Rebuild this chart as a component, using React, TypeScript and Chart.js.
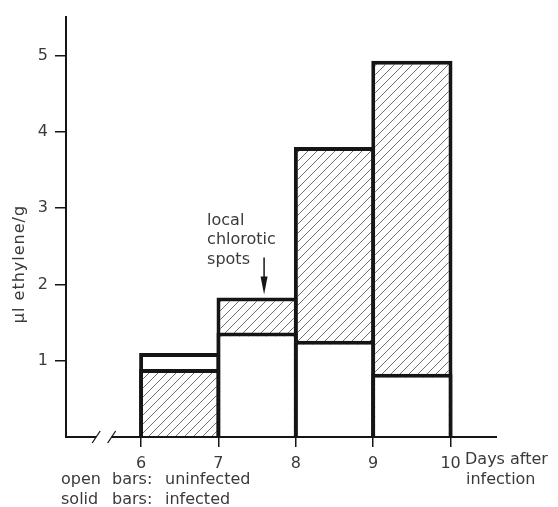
import React, { useEffect, useRef } from 'react';
import { Chart, registerables } from 'chart.js';

Chart.register(...registerables);

// ---- data ----
const intervalStarts = [6, 7, 8, 9];
const dayTicks = [6, 7, 8, 9, 10];
const yTicks = [1, 2, 3, 4, 5];
const uninfected = [1.1, 1.37, 1.26, 0.83];
const infected = [0.89, 1.83, 3.8, 4.93];
const yTitle = 'µl ethylene/g';
const xTitleLines = ['Days after', 'infection'];
const noteLines = ['local', 'chlorotic', 'spots'];
const noteDay = 7.59;
const legendLines = ['open bars: uninfected', 'solid bars: infected'];
const axisBreak = [5.42, 5.62];

const FONT = '"DejaVu Sans", sans-serif';
const INK = '#151515';
const TEXT = '#3a3a3a';

export default function App() {
  const ref = useRef<HTMLCanvasElement>(null);

  useEffect(() => {
    const canvas = ref.current!;
    const ctx = canvas.getContext('2d')!;

    const s = 9;
    const tile = document.createElement('canvas');
    tile.width = s;
    tile.height = s;
    const t = tile.getContext('2d')!;
    t.fillStyle = '#fff';
    t.fillRect(0, 0, s, s);
    t.strokeStyle = '#707070';
    t.lineWidth = 1;
    t.beginPath();
    t.moveTo(0, s);
    t.lineTo(s, 0);
    t.moveTo(-2, 2);
    t.lineTo(2, -2);
    t.moveTo(s - 2, s + 2);
    t.lineTo(s + 2, s - 2);
    t.stroke();
    const hatch = ctx.createPattern(tile, 'repeat')!;

    const centers = intervalStarts.map((d) => d + 0.5);
    const infectedTaller = uninfected.map((u, i) => infected[i] > u);
    const backVals = uninfected.map((u, i) => Math.max(u, infected[i]));
    const frontVals = uninfected.map((u, i) => Math.min(u, infected[i]));

    const decor = {
      id: 'decor',
      afterDraw(chart: any) {
        const c = chart.ctx as CanvasRenderingContext2D;
        const a = chart.chartArea;
        const xs = chart.scales.x;
        const ys = chart.scales.y;
        c.save();
        // x axis line with break
        const yb = a.bottom;
        const b1 = xs.getPixelForValue(axisBreak[0]);
        const b2 = xs.getPixelForValue(axisBreak[1]);
        c.strokeStyle = INK;
        c.lineWidth = 2;
        c.beginPath();
        c.moveTo(a.left - 1, yb);
        c.lineTo(b1, yb);
        c.moveTo(b2, yb);
        c.lineTo(a.right, yb);
        c.stroke();
        c.lineWidth = 1.3;
        c.beginPath();
        c.moveTo(b1 - 4, yb + 6);
        c.lineTo(b1 + 4, yb - 6);
        c.moveTo(b2 - 4, yb + 6);
        c.lineTo(b2 + 4, yb - 6);
        c.stroke();

        // texts
        c.fillStyle = TEXT;
        c.font = `16px ${FONT}`;
        c.textBaseline = 'middle';
        c.textAlign = 'left';
        // x title
        c.fillText(xTitleLines[0], 465, 460);
        c.fillText(xTitleLines[1], 466, 480);
        // legend lines (columns)
        const cols = [61, 112, 165];
        legendLines.forEach((line, li) => {
          const parts = line.split(' ');
          parts.forEach((p, pi) => c.fillText(p, cols[pi], 480 + li * 19.5));
        });
        // y title
        c.save();
        c.translate(20, 264);
        c.rotate(-Math.PI / 2);
        c.textAlign = 'center';
        (c as any).letterSpacing = '1px';
        c.fillText(yTitle, 0, 0);
        c.restore();

        // annotation
        const ax = xs.getPixelForValue(noteDay);
        const tip = ys.getPixelForValue(infected[1]) - 3;
        noteLines.forEach((ln, i) => c.fillText(ln, ax - 57, tip - 74 + i * 19.5));
        c.strokeStyle = INK;
        c.lineWidth = 1.5;
        c.beginPath();
        c.moveTo(ax, tip - 37);
        c.lineTo(ax, tip - 14);
        c.stroke();
        c.fillStyle = INK;
        c.beginPath();
        c.moveTo(ax - 3.5, tip - 18);
        c.lineTo(ax + 3.5, tip - 18);
        c.lineTo(ax, tip);
        c.closePath();
        c.fill();
        c.restore();
      },
    };

    const common = {
      borderColor: INK,
      borderWidth: 4,
      borderSkipped: 'start' as const,
      barPercentage: 1.05,
      categoryPercentage: 1,
      grouped: false,
    };

    const chart = new Chart(canvas, {
      type: 'bar',
      data: {
        datasets: [
          {
            ...common,
            label: 'front',
            order: 0,
            data: centers.map((x, i) => ({ x, y: frontVals[i] })),
            backgroundColor: centers.map((_, i) => (infectedTaller[i] ? '#ffffff' : hatch)) as any,
          },
          {
            ...common,
            label: 'back',
            order: 1,
            data: centers.map((x, i) => ({ x, y: backVals[i] })),
            backgroundColor: centers.map((_, i) => (infectedTaller[i] ? hatch : '#ffffff')) as any,
          },
        ],
      },
      options: {
        animation: false,
        responsive: false,
        devicePixelRatio: 1,
        layout: { padding: { left: 0, top: 8, right: 61, bottom: 0 } },
        plugins: { legend: { display: false }, tooltip: { enabled: false } },
        scales: {
          x: {
            type: 'linear',
            min: 5.03,
            max: 10.6,
            offset: false,
            afterBuildTicks: (sc: any) => {
              sc.ticks = dayTicks.map((v) => ({ value: v }));
            },
            afterFit: (sc: any) => {
              sc.height = 70;
            },
            grid: { drawOnChartArea: false, drawTicks: true, tickLength: 10, color: INK, lineWidth: 1.5, offset: false },
            border: { display: false },
            ticks: {
              padding: 7,
              color: TEXT,
              font: { family: FONT, size: 16 },
              autoSkip: false,
              maxRotation: 0,
              callback: (v: any) => String(v),
            },
          },
          y: {
            type: 'linear',
            min: 0,
            max: 5.51,
            afterBuildTicks: (sc: any) => {
              sc.ticks = yTicks.map((v) => ({ value: v }));
            },
            afterFit: (sc: any) => {
              sc.width = 66;
            },
            grid: { drawOnChartArea: false, drawTicks: true, tickLength: 11, color: INK, lineWidth: 1.5 },
            border: { display: true, color: INK, width: 2 },
            ticks: {
              padding: 7,
              color: TEXT,
              font: { family: FONT, size: 16 },
              callback: (v: any) => String(v),
            },
          },
        },
      },
      plugins: [decor],
    });
    return () => chart.destroy();
  }, []);

  return (
    <div style={{ position: 'fixed', left: 0, top: 0, width: 558, height: 507, background: '#fff' }}>
      <canvas ref={ref} width={558} height={507} style={{ display: 'block', width: 558, height: 507 }} />
    </div>
  );
}
